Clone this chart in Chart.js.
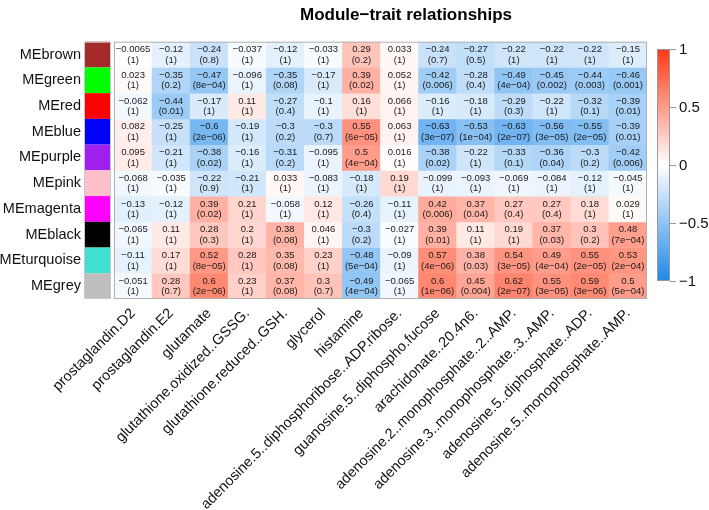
<!DOCTYPE html>
<html>
<head>
<meta charset="utf-8">
<script src="https://cdn.jsdelivr.net/npm/chart.js@4.4.1/dist/chart.umd.min.js"></script>
<style>
  body { margin: 0; background: #fff; }
  canvas { display: block; }
</style>
</head>
<body>
<canvas id="heatmap" width="709" height="510"></canvas>
<script>
// rasgos (columnas) y modulos (filas)
const traits = [
    "prostaglandin.D2", "prostaglandin.E2", "glutamate", "glutathione.oxidized..GSSG.",
    "glutathione.reduced..GSH.", "glycerol", "histamine", "adenosine.5..diphosphoribose..ADP.ribose.",
    "guanosine.5..diphospho.fucose", "arachidonate..20.4n6.", "adenosine.2..monophosphate..2..AMP.",
    "adenosine.3..monophosphate..3..AMP.", "adenosine.5..diphosphate..ADP.", "adenosine.5..monophosphate..AMP."
];
const modules = ["MEbrown", "MEgreen", "MEred", "MEblue", "MEpurple", "MEpink", "MEmagenta", "MEblack", "MEturquoise", "MEgrey"];
const moduleColors = ["#a52a2a", "#00ff00", "#ff0000", "#0000ff", "#a020f0", "#ffc0cb", "#ff00ff", "#000000", "#40e0d0", "#bebebe"];

// correlaciones por fila
const corVals = [
    [-0.0065, -0.12, -0.24, -0.037, -0.12, -0.033, 0.29, 0.033, -0.24, -0.27, -0.22, -0.22, -0.22, -0.15],
    [0.023, -0.35, -0.47, -0.096, -0.35, -0.17, 0.39, 0.052, -0.42, -0.28, -0.49, -0.45, -0.44, -0.46],
    [-0.062, -0.44, -0.17, 0.11, -0.27, -0.1, 0.16, 0.066, -0.16, -0.18, -0.29, -0.22, -0.32, -0.39],
    [0.082, -0.25, -0.6, -0.19, -0.3, -0.3, 0.55, 0.063, -0.63, -0.53, -0.63, -0.56, -0.55, -0.39],
    [0.095, -0.21, -0.38, -0.16, -0.31, -0.095, 0.5, 0.016, -0.38, -0.22, -0.33, -0.36, -0.3, -0.42],
    [-0.068, -0.035, -0.22, -0.21, 0.033, -0.083, -0.18, 0.19, -0.099, -0.093, -0.069, -0.084, -0.12, -0.045],
    [-0.13, -0.12, 0.39, 0.21, -0.058, 0.12, -0.26, -0.11, 0.42, 0.37, 0.27, 0.27, 0.18, 0.029],
    [-0.065, 0.11, 0.28, 0.2, 0.38, 0.046, -0.3, -0.027, 0.39, 0.11, 0.19, 0.37, 0.3, 0.48],
    [-0.11, 0.17, 0.52, 0.28, 0.35, 0.23, -0.48, -0.09, 0.57, 0.38, 0.54, 0.49, 0.55, 0.53],
    [-0.051, 0.28, 0.6, 0.23, 0.37, 0.3, -0.49, -0.065, 0.6, 0.45, 0.62, 0.55, 0.59, 0.5]
];
// p-valores tal como se muestran
const pVals = [
    ["1", "1", "0.8", "1", "1", "1", "0.2", "1", "0.7", "0.5", "1", "1", "1", "1"],
    ["1", "0.2", "8e-04", "1", "0.08", "1", "0.02", "1", "0.006", "0.4", "4e-04", "0.002", "0.003", "0.001"],
    ["1", "0.01", "1", "1", "0.4", "1", "1", "1", "1", "1", "0.3", "1", "0.1", "0.01"],
    ["1", "1", "2e-06", "1", "0.2", "0.7", "6e-05", "1", "3e-07", "1e-04", "2e-07", "3e-05", "2e-05", "0.01"],
    ["1", "1", "0.02", "1", "0.2", "1", "4e-04", "1", "0.02", "1", "0.1", "0.04", "0.2", "0.006"],
    ["1", "1", "0.9", "1", "1", "1", "1", "1", "1", "1", "1", "1", "1", "1"],
    ["1", "1", "0.02", "1", "1", "1", "0.4", "1", "0.006", "0.04", "0.4", "0.4", "1", "1"],
    ["1", "1", "0.3", "1", "0.08", "1", "0.2", "1", "0.01", "1", "1", "0.03", "0.2", "7e-04"],
    ["1", "1", "8e-05", "1", "0.08", "1", "5e-04", "1", "4e-06", "0.03", "3e-05", "4e-04", "2e-05", "2e-04"],
    ["1", "0.7", "2e-06", "1", "0.08", "0.7", "4e-04", "1", "1e-06", "0.004", "2e-07", "3e-05", "3e-06", "5e-04"]
];
const colorbarTicks = [1, 0.5, 0, -0.5, -1];

const FONT = '"Liberation Sans", Arial, sans-serif';
const BLUE_END = [30, 136, 232];
const RED_END = [255, 56, 20];

function cellColor(v) {
    const t = Math.min(Math.abs(v), 1);
    const end = v < 0 ? BLUE_END : RED_END;
    const c = end.map(e => Math.round(255 + (e - 255) * t));
    return 'rgb(' + c.join(',') + ')';
}

function menos(s) {
    return String(s).replace('-', '\u2212');
}

const textoCeldas = {
    id: 'textoCeldas',
    afterDatasetsDraw(chart) {
        const ctx = chart.ctx;
        const area = chart.chartArea;
        const ys = chart.scales.y;
        ctx.save();

        // textos de cada celda
        ctx.font = '9.5px ' + FONT;
        ctx.fillStyle = '#1a1a1a';
        ctx.textAlign = 'center';
        ctx.textBaseline = 'middle';
        modules.forEach((m, r) => {
            chart.getDatasetMeta(r).data.forEach((bar, c) => {
                const p = bar.getCenterPoint();
                ctx.fillText(menos(corVals[r][c]), p.x, p.y - 5);
                ctx.fillText('(' + menos(pVals[r][c]) + ')', p.x, p.y + 5.5);
            });
        });

        // borde del mapa
        ctx.strokeStyle = '#b0b0b0';
        ctx.lineWidth = 1;
        ctx.strokeRect(area.left + 0.5, area.top + 0.5, area.width - 1, area.height - 1);

        // colores de modulo
        modules.forEach((m, r) => {
            const y0 = ys.getPixelForValue(r);
            const y1 = ys.getPixelForValue(r + 1);
            ctx.fillStyle = moduleColors[r];
            ctx.fillRect(area.left - 29, y0, 25, y1 - y0);
        });
        ctx.strokeStyle = '#c8c8c8';
        ctx.strokeRect(area.left - 29.5, area.top + 0.5, 26, area.height - 1);

        // barra de color
        const bx = 657, bw = 13, top = 49, bottom = 281;
        const yv = v => top + (1 - v) / 2 * (bottom - top);
        const grad = ctx.createLinearGradient(0, top, 0, bottom);
        grad.addColorStop(0, cellColor(1));
        grad.addColorStop(0.5, cellColor(0));
        grad.addColorStop(1, cellColor(-1));
        ctx.fillStyle = grad;
        ctx.fillRect(bx, top, bw, bottom - top);
        ctx.strokeStyle = '#999';
        ctx.strokeRect(bx + 0.5, top + 0.5, bw - 1, bottom - top - 1);
        ctx.font = '15px ' + FONT;
        ctx.fillStyle = '#111';
        ctx.textAlign = 'left';
        colorbarTicks.forEach(v => {
            const y = Math.round(yv(v)) + 0.5;
            ctx.beginPath();
            ctx.moveTo(bx + bw, y);
            ctx.lineTo(bx + bw + 6, y);
            ctx.stroke();
            ctx.fillText(menos(v), bx + bw + 9, y);
        });

        // titulo
        ctx.font = 'bold 17px ' + FONT;
        ctx.textAlign = 'center';
        ctx.fillStyle = '#000';
        ctx.fillText('Module\u2212trait relationships', 406, 15);
        ctx.restore();
    }
};

new Chart(document.getElementById('heatmap'), {
    type: 'bar',
    data: {
        labels: traits,
        datasets: modules.map((m, r) => ({
            label: m,
            data: traits.map(() => [r, r + 1]),
            backgroundColor: corVals[r].map(cellColor),
            borderWidth: 0,
            grouped: false,
            barPercentage: 1,
            categoryPercentage: 1
        }))
    },
    options: {
        responsive: false,
        animation: false,
        layout: {
            padding: { left: 0, top: 33, right: 62, bottom: 0 }
        },
        plugins: {
            legend: { display: false },
            tooltip: { enabled: false },
            title: { display: false }
        },
        scales: {
            x: {
                grid: { display: false, drawTicks: false },
                border: { display: false },
                ticks: {
                    autoSkip: false,
                    minRotation: 45,
                    maxRotation: 45,
                    padding: 6,
                    color: '#111',
                    font: { size: 14.5, family: FONT }
                },
                afterFit: function(scale) { scale.height = 211; }
            },
            y: {
                min: 0,
                max: 10,
                reverse: true,
                grid: { display: false, drawTicks: false },
                border: { display: false },
                afterBuildTicks: function(scale) {
                    scale.ticks = modules.map((m, i) => ({ value: i + 0.5 }));
                },
                ticks: {
                    padding: 33,
                    color: '#111',
                    font: { size: 14.5, family: FONT },
                    callback: function(value, index) { return modules[index]; }
                },
                afterFit: function(scale) { scale.width = 114; }
            }
        }
    },
    plugins: [textoCeldas]
});
</script>
</body>
</html>
